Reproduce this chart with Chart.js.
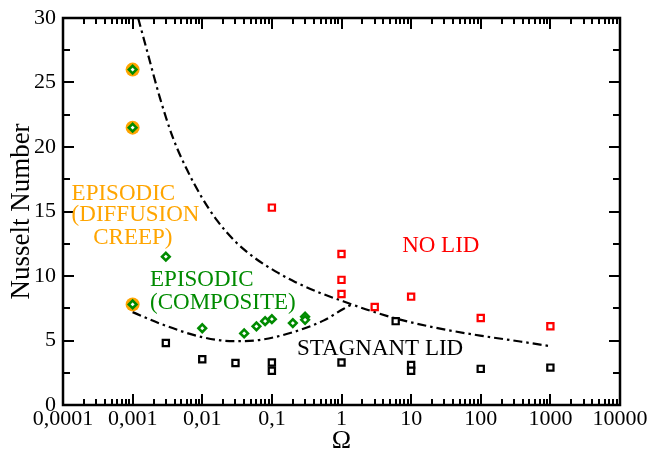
<!DOCTYPE html>
<html><head><meta charset="utf-8">
<script src="https://cdn.jsdelivr.net/npm/chart.js@4.4.1/dist/chart.umd.min.js"></script>
<style>html,body{margin:0;padding:0;background:#fff}#wrap{width:662px;height:454px}</style>
</head><body><div id="wrap"><canvas id="c" width="662" height="454"></canvas></div>
<script>
// ---- tick values / labels ----
const xTickValues = [0.0001, 0.001, 0.01, 0.1, 1, 10, 100, 1000, 10000];
const xTickLabels = ['0,0001', '0,001', '0,01', '0,1', '1', '10', '100', '1000', '10000'];
const yTickValues = [0, 5, 10, 15, 20, 25, 30];

// ---- series ----
const stagnantX = [0.003, 0.01, 0.03, 0.1, 0.1, 1, 6, 10, 10, 100, 1000];
const stagnantY = [4.8, 3.55, 3.25, 3.3, 2.65, 3.3, 6.5, 3.1, 2.65, 2.8, 2.9];

const noLidX = [0.1, 1, 1, 1, 3, 10, 100, 1000];
const noLidY = [15.3, 11.7, 9.7, 8.6, 7.6, 8.4, 6.75, 6.1];

const diffusionX = [0.001, 0.001, 0.001];
const diffusionY = [26, 21.5, 7.8];

const compositeX = [0.001, 0.001, 0.001, 0.003, 0.01, 0.04, 0.06, 0.08, 0.1, 0.2, 0.3, 0.3];
const compositeY = [26, 21.5, 7.8, 11.5, 5.95, 5.55, 6.1, 6.5, 6.65, 6.35, 6.85, 6.6];

const upperX = [0.0012, 0.00161, 0.00248, 0.00381, 0.00605, 0.0099, 0.0163, 0.0296, 0.0574, 0.111, 0.215, 0.493, 1.055, 2.58, 6.95, 26.1, 98, 368, 1000];
const upperY = [30, 27.46, 23.77, 20.69, 18.23, 16.08, 14.31, 12.69, 11.38, 10.38, 9.54, 8.69, 8.04, 7.31, 6.62, 5.92, 5.38, 4.92, 4.56];

const lowerX = [0.001, 0.0025, 0.01, 0.028, 0.068, 0.2, 0.55, 1.06, 1.42];
const lowerY = [7.2, 6.3, 5.26, 4.95, 5.05, 5.64, 6.54, 7.44, 7.81];

// ---- annotations (data coordinates of left baseline) ----
const noteTexts  = ['EPISODIC', '(DIFFUSION', 'CREEP)', 'EPISODIC', '(COMPOSITE)', 'NO LID', 'STAGNANT LID'];
const noteX      = [0.000133, 0.000133, 0.000272, 0.00178, 0.00178, 7.43, 0.23];
const noteY      = [15.9, 14.23, 12.46, 9.23, 7.46, 11.85, 3.85];
const noteColors = ['#FFA500', '#FFA500', '#FFA500', '#008b00', '#008b00', '#FF0000', '#000000'];

const FONT = "'Liberation Serif', 'Times New Roman', serif";
const zip = (xs, ys) => xs.map((x, i) => ({x: x, y: ys[i]}));

const framePlugin = {
  id: 'frame',
  afterDatasetsDraw(chart) {
    const {ctx, chartArea: a, scales: {x, y}} = chart;
    ctx.save();
    ctx.strokeStyle = '#000';
    ctx.lineWidth = 2;
    ctx.beginPath();
    for (let d = -4; d <= 4; d++) {
      for (let m = 1; m <= 9; m++) {
        const v = m * Math.pow(10, d);
        if (v > 10000 * 1.0001) break;
        const px = Math.round(x.getPixelForValue(v));
        const len = m === 1 ? 11 : 6;
        ctx.moveTo(px, a.bottom); ctx.lineTo(px, a.bottom - len);
        ctx.moveTo(px, a.top); ctx.lineTo(px, a.top + len);
      }
    }
    for (let v = 0; v <= 30; v += 2.5) {
      const py = Math.round(y.getPixelForValue(v));
      const len = (v % 5 === 0) ? 11 : 7;
      ctx.moveTo(a.left, py); ctx.lineTo(a.left + len, py);
      ctx.moveTo(a.right, py); ctx.lineTo(a.right - len, py);
    }
    ctx.stroke();
    ctx.lineWidth = 2.5;
    ctx.strokeRect(a.left, a.top, a.right - a.left, a.bottom - a.top);
    // annotations
    ctx.font = '23px ' + FONT;
    ctx.textAlign = 'left';
    ctx.textBaseline = 'alphabetic';
    noteTexts.forEach((t, i) => {
      ctx.fillStyle = noteColors[i];
      ctx.fillText(t, x.getPixelForValue(noteX[i]), y.getPixelForValue(noteY[i]));
    });
    ctx.restore();
  }
};

new Chart(document.getElementById('c'), {
  type: 'scatter',
  data: {
    datasets: [
      {
        label: 'upper boundary', data: zip(upperX, upperY), showLine: true,
        borderColor: '#000', borderWidth: 2.2, borderDash: [9, 4, 2.5, 4],
        pointRadius: 0, cubicInterpolationMode: 'monotone', order: 6
      },
      {
        label: 'lower boundary', data: zip(lowerX, lowerY), showLine: true,
        borderColor: '#000', borderWidth: 2.2, borderDash: [9, 4, 2.5, 4],
        pointRadius: 0, cubicInterpolationMode: 'monotone', order: 5
      },
      {
        label: 'Episodic (diffusion creep)', data: zip(diffusionX, diffusionY),
        pointStyle: 'circle', pointRadius: 7, backgroundColor: '#FFA500',
        borderColor: '#FFA500', borderWidth: 0, order: 4
      },
      {
        label: 'Stagnant lid', data: zip(stagnantX, stagnantY),
        pointStyle: 'rect', pointRadius: 4.4, backgroundColor: '#fff',
        borderColor: '#000', borderWidth: 2.2, order: 3
      },
      {
        label: 'No lid', data: zip(noLidX, noLidY),
        pointStyle: 'rect', pointRadius: 4.4, backgroundColor: '#fff',
        borderColor: '#FF0000', borderWidth: 2.2, order: 2
      },
      {
        label: 'Episodic (composite)', data: zip(compositeX, compositeY),
        pointStyle: 'rectRot', pointRadius: 3.8, backgroundColor: '#fff',
        borderColor: '#008b00', borderWidth: 2.6, order: 1
      }
    ]
  },
  options: {
    responsive: false,
    animation: false,
    devicePixelRatio: 1,
    layout: {padding: {top: 15, right: 42, left: 0, bottom: 0}},
    plugins: {legend: {display: false}, tooltip: {enabled: false}},
    scales: {
      x: {
        type: 'logarithmic', min: 0.0001, max: 10000, position: 'bottom',
        grid: {display: false, drawTicks: false},
        border: {display: false},
        afterBuildTicks: (s) => { s.ticks = xTickValues.map(v => ({value: v})); },
        afterFit: (s) => { s.height = 49; },
        ticks: {
          autoSkip: false, maxRotation: 0, padding: 3, color: '#000',
          font: {family: FONT, size: 22, lineHeight: 1},
          callback: (v) => { const i = xTickValues.findIndex(t => Math.abs(t - v) / t < 1e-6); return i >= 0 ? xTickLabels[i] : ''; }
        },
        title: {display: true, text: 'Ω', color: '#000', font: {family: FONT, size: 26, lineHeight: 1}, padding: {top: 0, bottom: 0}}
      },
      y: {
        type: 'linear', min: 0, max: 30,
        grid: {display: false, drawTicks: false},
        border: {display: false},
        afterBuildTicks: (s) => { s.ticks = yTickValues.map(v => ({value: v})); },
        afterFit: (s) => { s.width = 63; },
        ticks: {padding: 7, color: '#000', font: {family: FONT, size: 22, lineHeight: 1}},
        title: {display: true, text: 'Nusselt Number', color: '#000', font: {family: FONT, size: 27, lineHeight: 1}, padding: {top: 8, bottom: 0}}
      }
    }
  },
  plugins: [framePlugin]
});
</script>
</body></html>
